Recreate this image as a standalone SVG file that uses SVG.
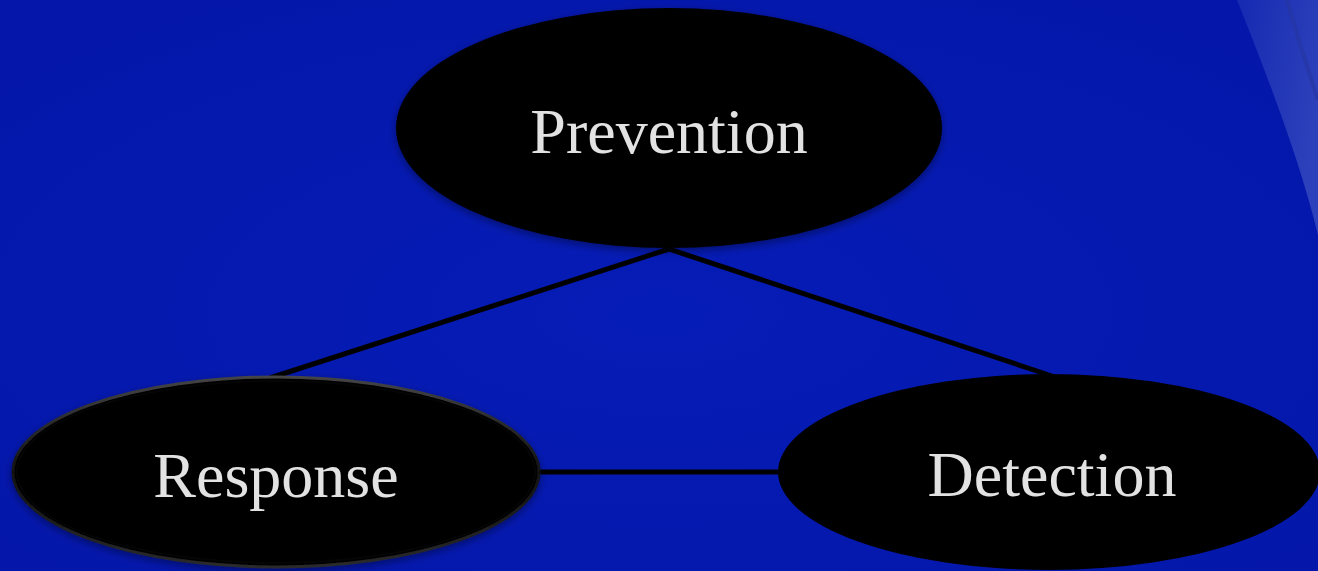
<svg xmlns="http://www.w3.org/2000/svg" width="1318" height="571" viewBox="0 0 1318 571">
  <defs>
    <radialGradient id="bg" cx="0.5" cy="0.55" r="0.8">
      <stop offset="0" stop-color="#061cb6"/>
      <stop offset="1" stop-color="#0416a8"/>
    </radialGradient>
    <linearGradient id="globe" x1="0" y1="0" x2="1" y2="0.4">
      <stop offset="0" stop-color="#1a30b4"/>
      <stop offset="1" stop-color="#3a4ec0"/>
    </linearGradient>
    <linearGradient id="rim" x1="0" y1="0" x2="0" y2="1">
      <stop offset="0" stop-color="#444444"/>
      <stop offset="0.5" stop-color="#111111"/>
      <stop offset="1" stop-color="#2a2a2a"/>
    </linearGradient>
    <filter id="shadow" x="-10%" y="-10%" width="120%" height="130%">
      <feGaussianBlur in="SourceAlpha" stdDeviation="4"/>
      <feOffset dx="0" dy="3" result="b"/>
      <feComponentTransfer><feFuncA type="linear" slope="0.4"/></feComponentTransfer>
      <feMerge><feMergeNode/><feMergeNode in="SourceGraphic"/></feMerge>
    </filter>
  </defs>
  <style>
    .node { fill: #000000; }
    .label { font-family: "Liberation Serif", "Times New Roman", serif; font-size: 64px; fill: #e2e2e2; text-anchor: middle; }
    .edge { stroke: #000000; stroke-width: 5; fill: none; }
  </style>
  <rect x="0" y="0" width="1318" height="571" fill="url(#bg)"/>
  <path d="M1237,0 C1265,70 1300,160 1318,235 L1318,0 Z" fill="url(#globe)" opacity="0.75"/>
  <path d="M1287,0 C1297,35 1308,70 1318,100" stroke="#2435a0" stroke-width="4" fill="none" opacity="0.6"/>
  <g id="connectors">
    <line class="edge" x1="669" y1="249" x2="270" y2="378"/>
    <line class="edge" x1="669" y1="249" x2="1052" y2="376"/>
    <line class="edge" x1="536" y1="472" x2="782" y2="472"/>
  </g>
  <g id="prevention">
    <ellipse class="node" cx="669" cy="128" rx="273" ry="120" filter="url(#shadow)"/>
    <text class="label" x="669" y="153">Prevention</text>
  </g>
  <g id="response">
    <ellipse class="node" cx="276" cy="472" rx="263" ry="95" stroke="url(#rim)" stroke-width="3" filter="url(#shadow)"/>
    <ellipse cx="276" cy="472" rx="259" ry="91" fill="none" stroke="#050505" stroke-width="2"/>
    <text class="label" x="276" y="497">Response</text>
  </g>
  <g id="detection">
    <ellipse class="node" cx="1049" cy="472" rx="271" ry="98"/>
    <text class="label" x="1052" y="496">Detection</text>
  </g>
</svg>
